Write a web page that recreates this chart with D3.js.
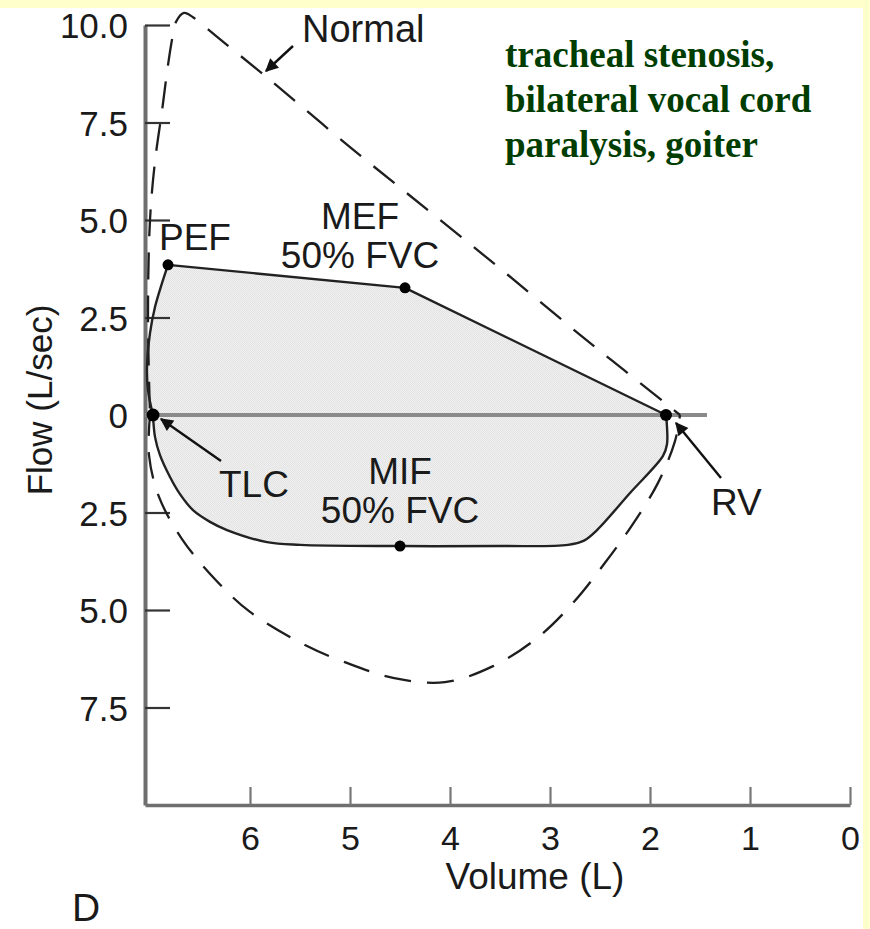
<!DOCTYPE html>
<html>
<head>
<meta charset="utf-8">
<script src="https://cdn.jsdelivr.net/npm/d3@7"></script>
<style>
  html, body { margin: 0; padding: 0; background: #ffffcc; }
  svg { display: block; }
  .sans { font-family: "Liberation Sans", Arial, Helvetica, sans-serif; fill: #1a1a1a; }
</style>
</head>
<body>
<svg id="chart" width="870" height="929"></svg>
<script>
// ---- data: volume (L), flow (L/sec); expiratory flow positive, inspiratory negative ----
const yTickValues = [10, 7.5, 5, 2.5, 0, -2.5, -5, -7.5];
const yTickLabels = ["10.0", "7.5", "5.0", "2.5", "0", "2.5", "5.0", "7.5"];
const xTickValues = [6, 5, 4, 3, 2, 1, 0];
const xTickLabels = ["6", "5", "4", "3", "2", "1", "0"];

// fixed obstruction loop: rise from TLC to PEF
const loopRise = [[6.97, 0], [7.02, 0.64], [7.03, 1.23], [7.00, 2.10], [6.95, 2.77], [6.88, 3.38], [6.82, 3.85]];
// plateau: PEF -> MEF -> RV (straight segments)
const loopPlateau = [[6.82, 3.85], [4.45, 3.26], [1.84, 0]];
// inspiratory limb: RV back to TLC
const loopInsp = [[1.84, 0], [1.83, -0.30], [1.83, -0.75], [1.87, -1.05], [2.20, -2.00], [2.53, -2.95],
  [2.66, -3.22], [2.82, -3.33], [3.50, -3.36], [4.50, -3.36], [5.50, -3.33], [5.83, -3.26],
  [6.23, -2.95], [6.40, -2.74], [6.57, -2.44], [6.70, -2.03], [6.80, -1.59], [6.90, -1.03],
  [6.95, -0.56], [6.97, 0]];

// normal loop, dashed
const normalExp = [[7.00, 0], [7.02, 2.5], [7.00, 5.0], [6.95, 6.5], [6.88, 7.8], [6.82, 8.97],
  [6.78, 9.62], [6.74, 10.08], [6.66, 10.31], [6.57, 10.20], [6.45, 9.95], [6.35, 9.74],
  [5.80, 8.59], [5.00, 6.87], [4.20, 5.21], [3.42, 3.59], [2.65, 1.95], [2.25, 1.13],
  [1.85, 0.31], [1.70, 0]];
const normalInsp = [[7.00, 0], [7.01, -1.03], [6.91, -2.10], [6.68, -3.18], [6.35, -4.21],
  [6.00, -5.05], [5.45, -5.90], [5.06, -6.33], [4.57, -6.74], [4.05, -6.85], [3.57, -6.44],
  [3.13, -5.72], [2.77, -4.82], [2.45, -3.79], [2.17, -2.79], [1.92, -1.74], [1.75, -0.67],
  [1.70, 0]];

// marked points
const keyPoints = [
  { name: "TLC", v: 6.97, f: 0, r: 6.5 },
  { name: "PEF", v: 6.82, f: 3.85, r: 5.5 },
  { name: "MEF", v: 4.45, f: 3.26, r: 5.5 },
  { name: "MIF", v: 4.50, f: -3.36, r: 5.5 },
  { name: "RV", v: 1.84, f: 0, r: 6 }
];
const noteLines = ["tracheal stenosis,", "bilateral vocal cord", "paralysis, goiter"];

// ---- layout ----
const svg = d3.select("#chart");
const x = d3.scaleLinear().domain([7.05, 0]).range([145, 850]);
const y = d3.scaleLinear().domain([-10, 10]).range([805, 25]);

// page: pale frame with white sheet
svg.append("rect").attr("x", 0).attr("y", 0).attr("width", 870).attr("height", 929).attr("fill", "#ffffcc");
svg.append("rect").attr("x", 0).attr("y", 8).attr("width", 863).attr("height", 921).attr("fill", "#ffffff");

// dithered grey fill
const defs = svg.append("defs");
const pat = defs.append("pattern").attr("id", "dither").attr("width", 2).attr("height", 2)
  .attr("patternUnits", "userSpaceOnUse");
pat.append("rect").attr("width", 2).attr("height", 2).attr("fill", "#f1f1f1");
pat.append("rect").attr("x", 0).attr("y", 0).attr("width", 1).attr("height", 1).attr("fill", "#e2e2e2");
pat.append("rect").attr("x", 1).attr("y", 1).attr("width", 1).attr("height", 1).attr("fill", "#e2e2e2");

const arrowHead = defs.append("marker").attr("id", "head").attr("viewBox", "0 0 10 10")
  .attr("refX", 9).attr("refY", 5).attr("markerUnits", "userSpaceOnUse")
  .attr("markerWidth", 17).attr("markerHeight", 13).attr("orient", "auto");
arrowHead.append("path").attr("d", "M0,0 L10,5 L0,10 Z").attr("fill", "#111");

const smooth = d3.line().x(d => x(d[0])).y(d => y(d[1])).curve(d3.curveCatmullRom.alpha(0.5));
const straight = d3.line().x(d => x(d[0])).y(d => y(d[1]));

const loopPath = smooth(loopRise) + straight(loopPlateau).replace(/^M/, "L") +
  smooth(loopInsp).replace(/^M/, "L") + "Z";

svg.append("path").attr("d", loopPath).attr("fill", "url(#dither)").attr("stroke", "none");

// ---- axes ----
const yAxis = d3.axisLeft(y).tickValues(yTickValues)
  .tickFormat((d, i) => yTickLabels[i]).tickSizeInner(-25).tickSizeOuter(0).tickPadding(17);
const gy = svg.append("g").attr("transform", "translate(145,0)").call(yAxis);
gy.select(".domain").attr("stroke", "#6f6f6f").attr("stroke-width", 4);
gy.selectAll(".tick line").attr("stroke", "#333").attr("stroke-width", 2.2);
gy.selectAll(".tick text").attr("class", "sans").style("font-size", "35px").attr("dy", "0.36em");

const xAxis = d3.axisBottom(x).tickValues(xTickValues)
  .tickFormat((d, i) => xTickLabels[i]).tickSizeInner(-18).tickSizeOuter(0).tickPadding(21);
const gx = svg.append("g").attr("transform", "translate(0,805)").call(xAxis);
gx.select(".domain").attr("stroke", "#6f6f6f").attr("stroke-width", 3.5);
gx.selectAll(".tick line").attr("stroke", "#777").attr("stroke-width", 2.2);
gx.selectAll(".tick text").attr("class", "sans").style("font-size", "34px");

// zero-flow line
svg.append("line").attr("x1", x(7.05)).attr("x2", x(1.43)).attr("y1", y(0)).attr("y2", y(0))
  .attr("stroke", "#8a8a8a").attr("stroke-width", 4);

// ---- normal loop (dashed) ----
const dash = [27, 16];
const nExp = svg.append("path").attr("d", smooth(normalExp)).attr("fill", "none")
  .attr("stroke", "#1e1e1e").attr("stroke-width", 2.3).attr("stroke-dasharray", dash.join(","));
// put a solid dash over the peak flow
{
  const node = nExp.node();
  const total = node.getTotalLength();
  const peakX = x(6.66), peakY = y(10.31);
  let best = 0, bestD = Infinity;
  for (let s = 0; s <= total; s += 1) {
    const p = node.getPointAtLength(s);
    const dd = (p.x - peakX) ** 2 + (p.y - peakY) ** 2;
    if (dd < bestD) { bestD = dd; best = s; }
  }
  const period = dash[0] + dash[1];
  const off = ((dash[0] / 2 - best) % period + period) % period;
  nExp.attr("stroke-dashoffset", off);
}
svg.append("path").attr("d", smooth(normalInsp)).attr("fill", "none")
  .attr("stroke", "#1e1e1e").attr("stroke-width", 2.3).attr("stroke-dasharray", dash.join(","))
  .attr("stroke-dashoffset", 6);

// ---- obstruction loop outline ----
svg.append("path").attr("d", loopPath).attr("fill", "none")
  .attr("stroke", "#222").attr("stroke-width", 2.4).attr("stroke-linejoin", "round");

svg.selectAll("circle.key").data(keyPoints).join("circle").attr("class", "key")
  .attr("cx", d => x(d.v)).attr("cy", d => y(d.f)).attr("r", d => d.r).attr("fill", "#000");

// ---- annotations ----
const note = (tx, ty, str, anchor, size) => svg.append("text").attr("class", "sans")
  .attr("x", tx).attr("y", ty).attr("text-anchor", anchor || "start")
  .style("font-size", (size || 37) + "px").text(str);

note(302, 42, "Normal", "start", 38);
note(159, 250, "PEF");
note(360, 229, "MEF", "middle");
note(360, 268, "50% FVC", "middle");
note(400, 484, "MIF", "middle");
note(400, 523, "50% FVC", "middle");
note(219, 497, "TLC");
note(711, 515, "RV");

const arrow = (x1, y1, x2, y2) => svg.append("line")
  .attr("x1", x1).attr("y1", y1).attr("x2", x2).attr("y2", y2)
  .attr("stroke", "#111").attr("stroke-width", 2.4).attr("marker-end", "url(#head)");
arrow(293, 46, 266, 71);
arrow(221, 461, 161, 419);
arrow(721, 478, 676, 423);

// axis titles and panel letter
svg.append("text").attr("class", "sans").attr("transform", "translate(52,400) rotate(-90)")
  .attr("text-anchor", "middle").style("font-size", "35px").text("Flow (L/sec)");
note(535, 889, "Volume (L)", "middle", 37);
note(72, 921, "D", "start", 39);

// condition note
const tn = svg.append("text").attr("x", 505).attr("y", 67)
  .style("font-family", "'Liberation Serif', 'Times New Roman', Times, serif")
  .style("font-weight", "bold").style("font-size", "37px").attr("fill", "#003d00");
tn.selectAll("tspan").data(noteLines).join("tspan")
  .attr("x", 505).attr("dy", (d, i) => i === 0 ? 0 : 45).text(d => d);
</script>
</body>
</html>
